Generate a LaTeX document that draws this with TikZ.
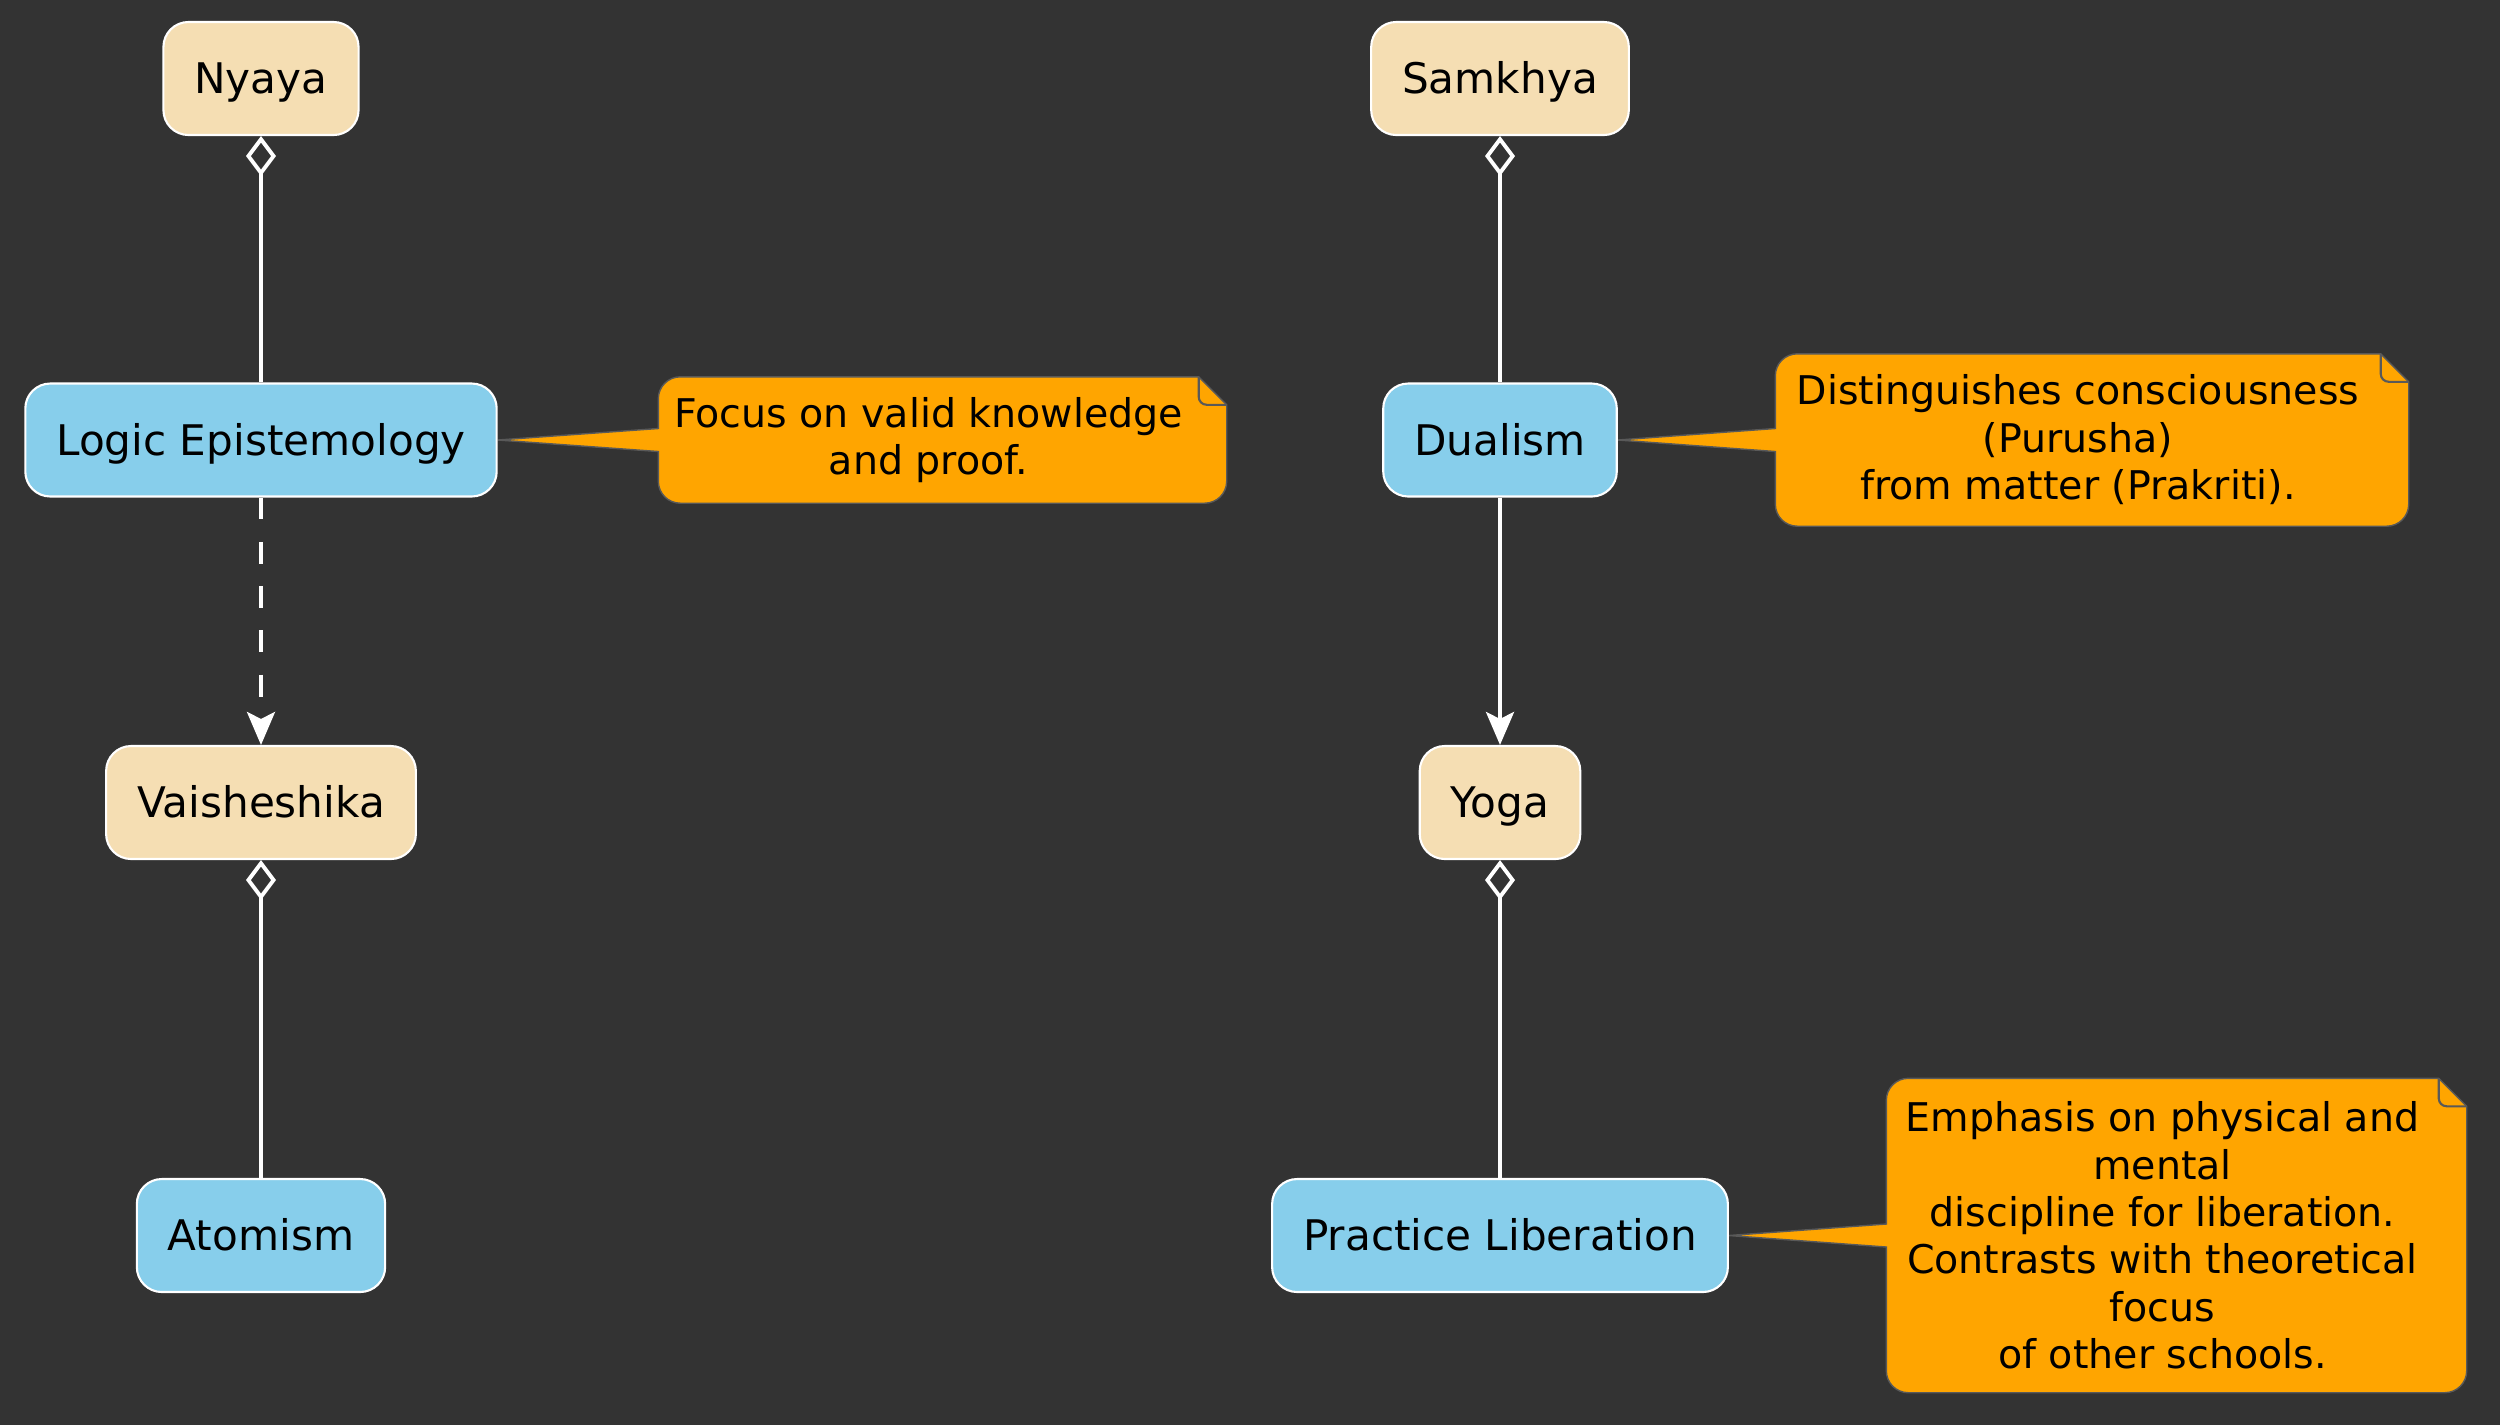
\documentclass[tikz,border=0pt]{standalone}
\usepackage{fontspec}
\setmainfont{DejaVu Sans}
\usetikzlibrary{arrows.meta,calc}
\definecolor{bgdark}{HTML}{333333}
\definecolor{wheatbox}{HTML}{F5DEB3}
\definecolor{skybox}{HTML}{87CEEB}
\definecolor{noteorange}{HTML}{FFA500}
\definecolor{noteline}{HTML}{595959}
\pgfdeclarelayer{back}
\pgfdeclarelayer{notes}
\pgfsetlayers{back,notes,main}
\newcommand{\notecallout}[2]{%
  \coordinate (#1-ne) at ($(#1.north east)+(0.28,0)$);
  \coordinate (#1-se) at ($(#1.south east)+(0.28,0)$);
  \filldraw[fill=noteorange, draw=noteline, line width=0.4pt] (#2) -- ($(#1.west)+(0,0.115)$)
    -- ($(#1.north west)+(0,-0.22)$) arc[start angle=180, end angle=90, radius=0.22]
    -- ($(#1-ne)+(-0.28,0)$) -- ($(#1-ne)+(0,-0.28)$)
    -- ($(#1-se)+(0,0.22)$) arc[start angle=0, end angle=-90, radius=0.22]
    -- ($(#1.south west)+(0.22,0)$) arc[start angle=270, end angle=180, radius=0.22]
    -- ($(#1.west)+(0,-0.115)$) -- cycle;
  \draw[noteline, line width=0.6pt] ($(#1-ne)+(-0.28,0)$) -- ++(0,-0.2)
    arc[start angle=180, end angle=270, radius=0.08] -- ($(#1-ne)+(0,-0.28)$);
}
\begin{document}
\begin{tikzpicture}[
    school/.style={rounded corners=0.25cm, fill=wheatbox, draw=white, line width=0.6pt, minimum height=1.13cm, inner xsep=0.31cm, text height=0.86em, text depth=0pt, text=black, font=\fontsize{12}{14}\selectfont},
    concept/.style={school, fill=skybox},
    notetext/.style={inner sep=0pt, align=center, text=black, font=\fontsize{11.25}{13.5}\selectfont},
    aggline/.style={draw=white, line width=1.1pt, arrows={Diamond[open, length=4mm, width=3mm]-}},
    flowline/.style={draw=white, line width=1.1pt, arrows={-Stealth[length=3.3mm, width=2.8mm, inset=0.7mm]}},
    dashline/.style={flowline, dash pattern=on 6.2pt off 6.4pt}]
    \begin{pgfonlayer}{back}
        \fill[bgdark] (0,0) rectangle (25,-14.25);
    \end{pgfonlayer}
    \useasboundingbox (0,0) rectangle (25,-14.25);

    \node[school] (nyaya) at (2.61,-0.785) {Nyaya};
    \node[concept] (logic) at (2.61,-4.40) {Logic Epistemology};
    \node[school] (vaisheshika) at (2.61,-8.025) {Vaisheshika};
    \node[concept] (atomism) at (2.61,-12.355) {Atomism};

    \node[school] (samkhya) at (15.0,-0.785) {Samkhya};
    \node[concept] (dualism) at (15.0,-4.40) {Dualism};
    \node[school] (yoga) at (15.0,-8.025) {Yoga};
    \node[concept] (practice) at (15.0,-12.355) {Practice Liberation};

    \node[notetext, minimum width=5.39cm, minimum height=1.25cm] (logicnote) at (9.285,-4.40) {Focus on valid knowledge\\and proof.};
    \node[notetext, minimum width=6.04cm, minimum height=1.71cm] (dualnote) at (20.78,-4.40) {Distinguishes consciousness\\(Purusha)\\from matter (Prakriti).};
    \node[notetext, minimum width=5.51cm, minimum height=3.13cm] (practicenote) at (21.625,-12.355) {Emphasis on physical and\\mental\\discipline for liberation.\\Contrasts with theoretical\\focus\\of other schools.};

    \begin{pgfonlayer}{notes}
        \notecallout{logicnote}{logic.east}
        \notecallout{dualnote}{dualism.east}
        \notecallout{practicenote}{practice.east}
    \end{pgfonlayer}

    \draw[aggline] (nyaya) -- (logic);
    \draw[dashline] (logic) -- (vaisheshika);
    \draw[aggline] (vaisheshika) -- (atomism);
    \draw[aggline] (samkhya) -- (dualism);
    \draw[flowline] (dualism) -- (yoga);
    \draw[aggline] (yoga) -- (practice);
\end{tikzpicture}
\end{document}
